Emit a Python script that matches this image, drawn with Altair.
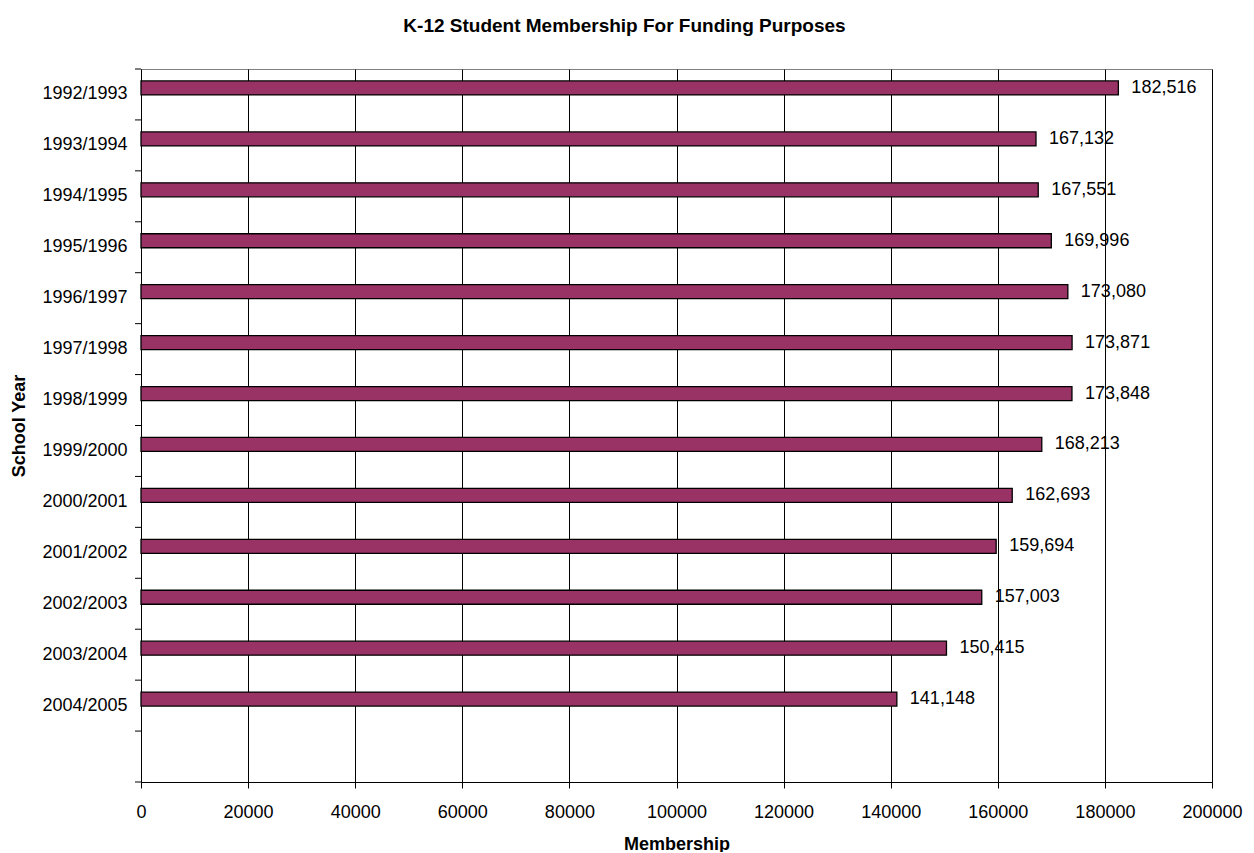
import altair as alt
import pandas as pd

years = ["1992/1993", "1993/1994", "1994/1995", "1995/1996", "1996/1997",
         "1997/1998", "1998/1999", "1999/2000", "2000/2001", "2001/2002",
         "2002/2003", "2003/2004", "2004/2005"]
membership = [182516, 167132, 167551, 169996, 173080, 173871, 173848,
              168213, 162693, 159694, 157003, 150415, 141148]
x_ticks = [0, 20000, 40000, 60000, 80000, 100000, 120000, 140000, 160000, 180000, 200000]

domain = years + [""]
df = pd.DataFrame({"year": years, "membership": membership})
ticks_df = pd.DataFrame({"year": domain})
last_df = pd.DataFrame({"year": [""]})

FONT = "Liberation Sans"
W, H = 1071, 713

yscale = alt.Scale(domain=domain, paddingInner=0, paddingOuter=0)

base = alt.Chart(df)

axis_style = dict(labelFont=FONT, labelFontSize=18, labelColor="black",
                  titleFont=FONT, titleFontSize=18, titleFontWeight="bold",
                  titleColor="black", domainColor="black")

bars = base.mark_bar(height=14, yOffset=-6.5, color="#993366", stroke="black", strokeWidth=1.3).encode(
    x=alt.X("membership:Q",
            scale=alt.Scale(domain=[0, 200000], nice=False),
            axis=alt.Axis(values=x_ticks, format="d", title="Membership",
                          grid=True, gridColor="black", gridWidth=1,
                          tickColor="black", tickSize=6,
                          labelPadding=15, labelFlush=False,
                          titlePadding=14, **axis_style)),
    y=alt.Y("year:N", scale=yscale, sort=domain,
            axis=alt.Axis(title="School Year", ticks=False, labelPadding=14,
                          titlePadding=13, **axis_style)),
)

labels = base.mark_text(align="left", baseline="middle", dx=13, yOffset=-6.5,
                        font=FONT, fontSize=18, color="black").encode(
    x="membership:Q",
    y=alt.Y("year:N", scale=yscale, sort=domain),
    text=alt.Text("membership:Q", format=","),
)

yticks = alt.Chart(ticks_df).mark_rule(color="black", strokeWidth=1).encode(
    x=alt.value(-6), x2=alt.value(0),
    y=alt.Y("year:N", scale=yscale, sort=domain, bandPosition=0),
)
ylast = alt.Chart(last_df).mark_rule(color="black", strokeWidth=1).encode(
    x=alt.value(-6), x2=alt.value(0),
    y=alt.Y("year:N", scale=yscale, sort=domain, bandPosition=1),
)

chart = alt.layer(bars, labels, yticks, ylast).properties(
    width=W, height=H,
    background="white",
    title=alt.TitleParams("K-12 Student Membership For Funding Purposes",
                          font=FONT, fontSize=19, fontWeight="bold",
                          anchor="middle", dx=-52, offset=33, color="black"),
    autosize=alt.AutoSizeParams(type="none"),
    padding={"left": 133, "top": 61, "right": 34, "bottom": 70},
).configure_view(stroke="#808080", strokeWidth=1)

chart.save("out.html", embed_options={"renderer": "svg", "actions": False})
